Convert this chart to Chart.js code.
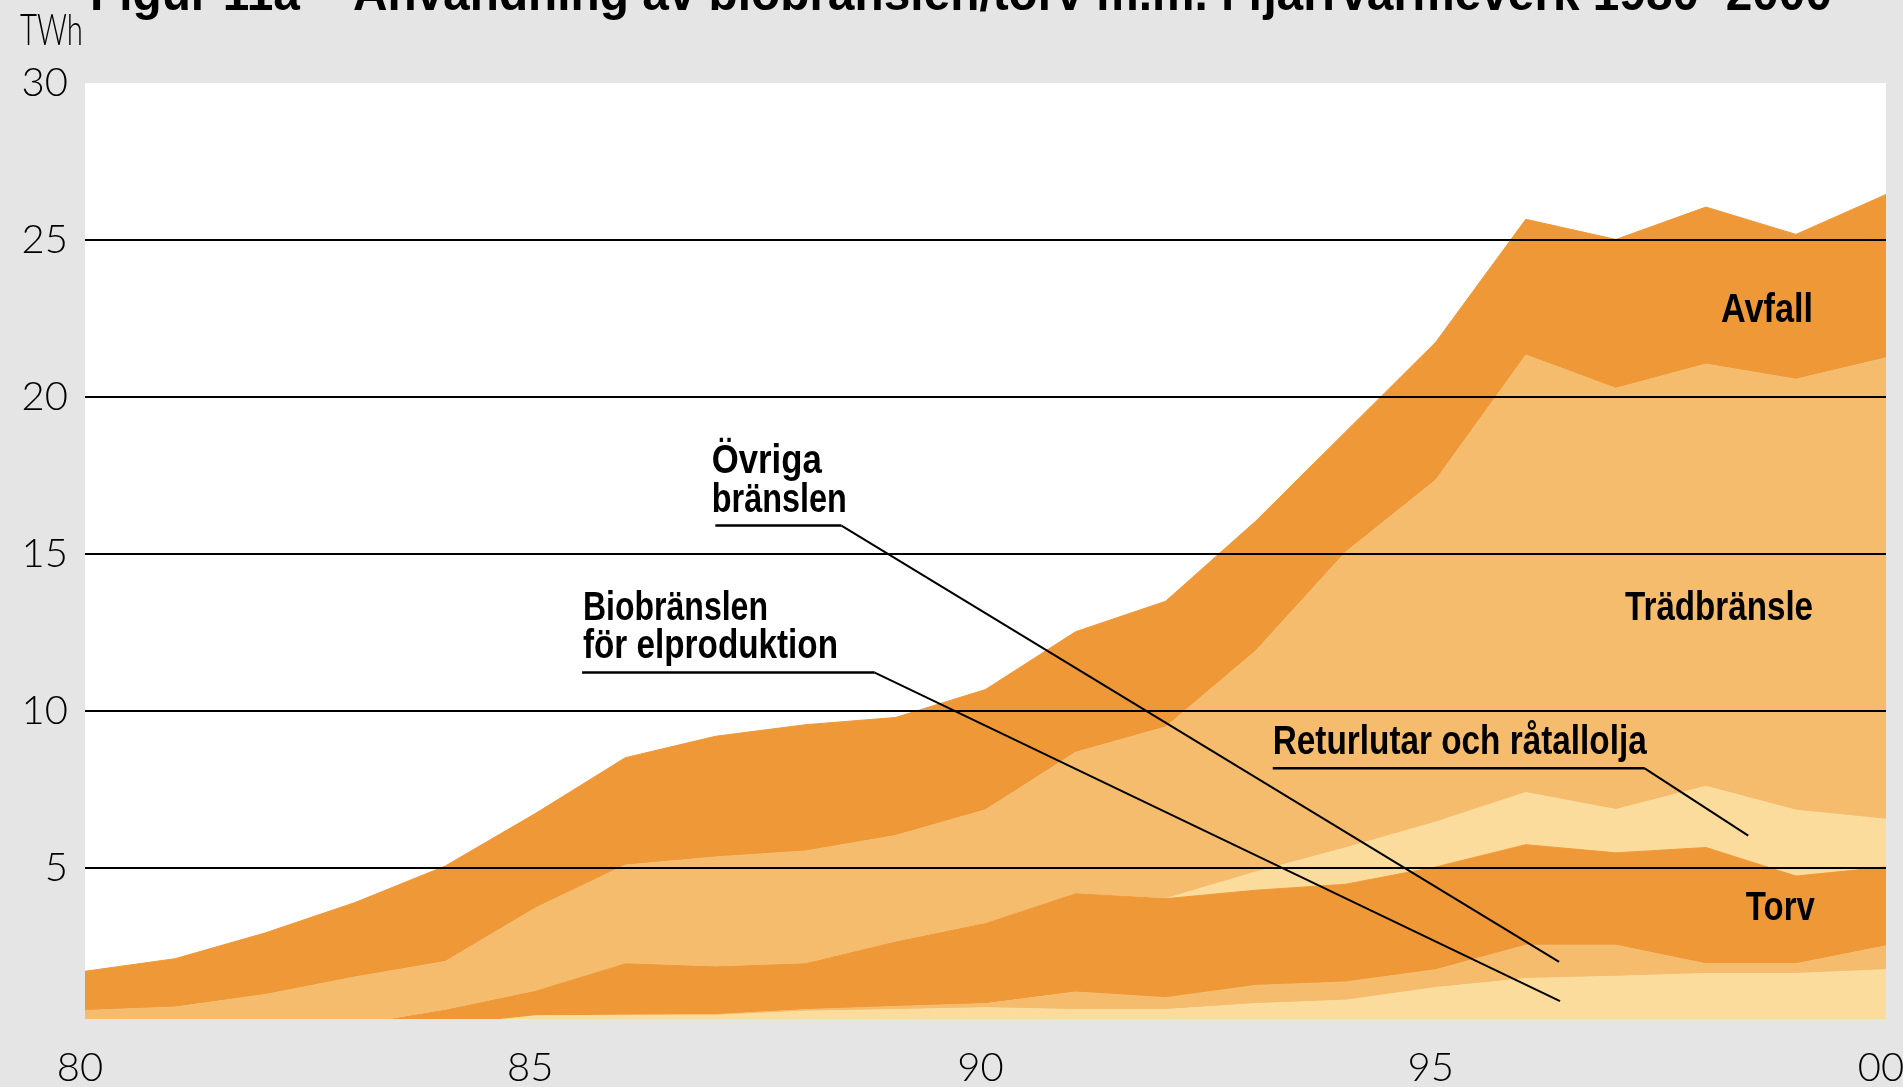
<!DOCTYPE html>
<html>
<head>
<meta charset="utf-8">
<script src="https://cdn.jsdelivr.net/npm/chart.js@4.4.0/dist/chart.umd.min.js"></script>
<style>
  html, body { margin: 0; padding: 0; background: #e5e5e5; overflow: hidden; }
  canvas { display: block; }
</style>
</head>
<body>
<canvas id="chart" width="1903" height="1087"></canvas>
<script>
// Years and tick labels
const years = [1980, 1981, 1982, 1983, 1984, 1985, 1986, 1987, 1988, 1989, 1990,
               1991, 1992, 1993, 1994, 1995, 1996, 1997, 1998, 1999, 2000];
const xTickYears = [1980, 1985, 1990, 1995, 2000];
const xTickLabels = ["80", "85", "90", "95", "00"];
const yTickValues = [5, 10, 15, 20, 25, 30];

// TWh per fuel, bottom of the stack first
const bioEl      = [0, 0, 0, 0, 0, 0.30, 0.32, 0.32, 0.45, 0.50, 0.56, 0.50, 0.50, 0.69, 0.80, 1.20, 1.49, 1.56, 1.65, 1.65, 1.77];
const ovriga     = [0, 0, 0, 0, 0, 0, 0, 0.02, 0.05, 0.10, 0.13, 0.56, 0.38, 0.58, 0.58, 0.57, 1.06, 0.99, 0.31, 0.31, 0.76];
const torv       = [0, 0, 0, 0, 0.48, 0.78, 1.64, 1.52, 1.46, 2.05, 2.55, 3.13, 3.15, 3.03, 3.11, 3.27, 3.20, 2.94, 3.70, 2.79, 2.51];
const returlutar = [0, 0, 0, 0, 0, 0, 0, 0, 0, 0, 0, 0, 0, 0.58, 1.16, 1.43, 1.66, 1.38, 1.95, 2.10, 1.52];
const tradbransle= [0.47, 0.58, 0.98, 1.54, 1.55, 2.65, 3.14, 3.50, 3.59, 3.39, 3.62, 4.50, 5.47, 7.04, 9.42, 10.89, 13.93, 13.41, 13.44, 13.72, 14.69];
const avfall     = [1.25, 1.54, 1.96, 2.37, 3.04, 3.01, 3.42, 3.84, 4.02, 3.76, 3.83, 3.84, 4.00, 4.13, 3.83, 4.39, 4.32, 4.74, 5.00, 4.61, 5.20];

const DARK = "#ef9838";
const MID = "#f6bc6e";
const LIGHT = "#fbdc9c";

// text labels placed in data units (year, TWh)
const areaLabels = [
    { text: "Avfall", x: 1999.19, y: 22.4, w: 92 },
    { text: "Trädbränsle", x: 1999.19, y: 12.9, w: 188 },
    { text: "Torv", x: 1999.21, y: 3.35, w: 69 }
];
const callouts = [
    { lines: ["Övriga", "bränslen"], widths: [110, 135], x: 1986.96, y: [17.59, 16.35],
      under: [1987.0, 1988.4, 15.91], end: [1996.37, 2.02] },
    { lines: ["Biobränslen", "för elproduktion"], widths: [185, 255], x: 1985.53, y: [12.9, 11.68],
      under: [1985.52, 1988.77, 11.23], end: [1996.38, 0.77] },
    { lines: ["Returlutar och råtallolja"], widths: [374], x: 1993.19, y: [8.63],
      under: [1993.19, 1997.32, 8.18], end: [1998.47, 6.04] }
];

function squeezeText(ctx, text, x, y, font, width, alignRight) {
    ctx.save();
    ctx.font = font;
    const w = ctx.measureText(text).width;
    ctx.translate(alignRight ? x - width : x, y);
    ctx.scale(width / w, 1);
    ctx.textAlign = "left";
    ctx.textBaseline = "alphabetic";
    ctx.fillStyle = "#000";
    ctx.fillText(text, 0, 0);
    ctx.restore();
}

const backdrop = {
    id: "backdrop",
    beforeDraw(chart) {
        const { ctx, chartArea: a } = chart;
        ctx.save();
        ctx.fillStyle = "#e5e5e5";
        ctx.fillRect(0, 0, chart.width, chart.height);
        ctx.fillStyle = "#ffffff";
        ctx.fillRect(a.left, a.top, a.right - a.left, a.bottom - a.top);
        ctx.restore();
    }
};

const texts = {
    id: "texts",
    afterDraw(chart) {
        const ctx = chart.ctx;
        const xs = chart.scales.x, ys = chart.scales.y;
        const bold = 'bold 41px "Liberation Sans", Arial, sans-serif';

        // title, cut off at the top edge
        squeezeText(ctx, "Figur 11a – Användning av biobränslen/torv m.m. i fjärrvärmeverk 1980–2000",
            90, 10, 'bold 50px "Liberation Sans", Arial, sans-serif', 1742, false);
        squeezeText(ctx, "TWh", 20, 45, '300 44px Lato, "Open Sans", sans-serif', 63, false);

        areaLabels.forEach(l => {
            squeezeText(ctx, l.text, xs.getPixelForValue(l.x), ys.getPixelForValue(l.y), bold, l.w, true);
        });

        callouts.forEach(c => {
            const x = xs.getPixelForValue(c.x);
            c.lines.forEach((t, i) => squeezeText(ctx, t, x, ys.getPixelForValue(c.y[i]), bold, c.widths[i], false));
            const ux0 = xs.getPixelForValue(c.under[0]);
            const ux1 = xs.getPixelForValue(c.under[1]);
            const uy = ys.getPixelForValue(c.under[2]);
            ctx.save();
            ctx.strokeStyle = "#000";
            ctx.lineWidth = 2.5;
            ctx.beginPath();
            ctx.moveTo(ux0, uy);
            ctx.lineTo(ux1, uy);
            ctx.stroke();
            ctx.lineWidth = 2;
            ctx.beginPath();
            ctx.moveTo(ux1, uy);
            ctx.lineTo(xs.getPixelForValue(c.end[0]), ys.getPixelForValue(c.end[1]));
            ctx.stroke();
            ctx.restore();
        });
    }
};

function layer(label, data, color, fill) {
    return {
        label: label,
        data: data,
        backgroundColor: color,
        borderColor: color,
        borderWidth: 1,
        pointRadius: 0,
        tension: 0,
        fill: fill
    };
}

new Chart(document.getElementById("chart").getContext("2d"), {
    type: "line",
    data: {
        labels: years,
        datasets: [
            layer("Biobränslen för elproduktion", bioEl, LIGHT, "origin"),
            layer("Övriga bränslen", ovriga, MID, "-1"),
            layer("Torv", torv, DARK, "-1"),
            layer("Returlutar och råtallolja", returlutar, LIGHT, "-1"),
            layer("Trädbränsle", tradbransle, MID, "-1"),
            layer("Avfall", avfall, DARK, "-1")
        ]
    },
    options: {
        responsive: false,
        animation: false,
        devicePixelRatio: 1,
        layout: { padding: { top: 83, right: 17, left: 0, bottom: 0 } },
        plugins: {
            legend: { display: false },
            tooltip: { enabled: false }
        },
        scales: {
            x: {
                type: "linear",
                min: 1980,
                max: 2000,
                grid: { display: false },
                border: { display: false },
                afterBuildTicks: s => { s.ticks = xTickYears.map(v => ({ value: v })); },
                afterFit: s => { s.height = 68; s.paddingLeft = 0; s.paddingRight = 0; },
                ticks: {
                    maxRotation: 0,
                    padding: 17,
                    labelOffset: -5,
                    color: "#000",
                    font: { family: 'Lato, "Open Sans", sans-serif', weight: 300, size: 40 },
                    callback: v => xTickLabels[xTickYears.indexOf(v)]
                }
            },
            y: {
                stacked: true,
                min: 0.2,
                max: 30,
                border: { display: false },
                grid: {
                    z: 1,
                    drawTicks: false,
                    lineWidth: 2,
                    color: c => (c.tick && c.tick.value < 30 ? "#000" : "rgba(0,0,0,0)")
                },
                afterBuildTicks: s => { s.ticks = yTickValues.map(v => ({ value: v })); },
                afterFit: s => { s.width = 85; s.paddingTop = 0; s.paddingBottom = 0; },
                ticks: {
                    padding: 17,
                    color: "#000",
                    font: { family: 'Lato, "Open Sans", sans-serif', weight: 300, size: 40 }
                }
            }
        }
    },
    plugins: [backdrop, texts]
});
</script>
</body>
</html>
